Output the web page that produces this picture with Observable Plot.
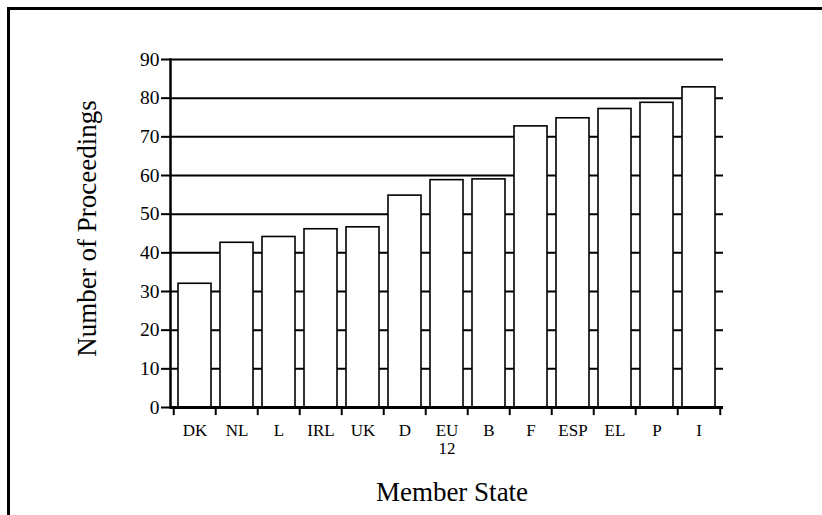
<!DOCTYPE html>
<html>
<head>
<meta charset="utf-8">
<script src="https://cdn.jsdelivr.net/npm/d3@7"></script>
<script src="https://cdn.jsdelivr.net/npm/@observablehq/plot@0.6"></script>
<style>
  html, body { margin: 0; padding: 0; background: #fff; }
  #wrap { position: relative; width: 822px; height: 515px; overflow: hidden; }
  #border { position: absolute; left: 7px; top: 7px; width: 830px; height: 530px;
            border-top: 3px solid #000; border-left: 3px solid #000; pointer-events: none; }
</style>
</head>
<body>
<div id="wrap"><div id="border"></div></div>
<script>
const states = ["DK", "NL", "L", "IRL", "UK", "D", "EU\n12", "B", "F", "ESP", "EL", "P", "I"];
const proceedings = [32, 42.6, 44.1, 46.1, 46.6, 54.8, 58.8, 59.0, 72.7, 74.8, 77.2, 78.8, 82.8];
const yTicks = [0, 10, 20, 30, 40, 50, 60, 70, 80, 90];
const gridValues = [10, 20, 30, 40, 50, 60, 70, 80, 90];
const xTitle = "Member State";
const yTitle = "Number of Proceedings";

const data = states.map((s, i) => ({state: s, value: proceedings[i]}));

const W = 822, H = 515, mL = 170, mR = 99, mT = 59, mB = 108;
const step = (W - mL - mR) / states.length;

const chart = Plot.plot({
  width: W,
  height: H,
  marginLeft: mL,
  marginRight: mR,
  marginTop: mT,
  marginBottom: mB,
  style: {fontFamily: "'Liberation Serif', 'DejaVu Serif', serif", color: "#000", background: "transparent"},
  x: {domain: states, paddingInner: 0.22, paddingOuter: 0.11, axis: null},
  y: {domain: [0, 90], axis: null},
  marks: [
    Plot.ruleY(gridValues, {stroke: "#000", strokeWidth: 2}),
    Plot.barY(data, {x: "state", y: "value", fill: "#fff", stroke: "#000", strokeWidth: 1.6}),
    Plot.ruleY([0], {stroke: "#000", strokeWidth: 3}),
    Plot.frame({anchor: "left", stroke: "#000", strokeWidth: 2.5}),
    Plot.ruleX(states, {x: d => d, dx: -step / 2, y1: 0, y2: -2.1, stroke: "#000", strokeWidth: 2}),
    Plot.ruleX(states.slice(-1), {x: d => d, dx: step / 2, y1: 0, y2: -2.1, stroke: "#000", strokeWidth: 2}),
    Plot.axisY({ticks: yTicks, tickSize: 9, tickPadding: 2, fontSize: 19.5, strokeWidth: 2, label: null}),
    Plot.axisX({tickSize: 0, tickPadding: 15, fontSize: 17, lineHeight: 1.1, label: null}),
    Plot.text([yTitle], {frameAnchor: "left", textAnchor: "middle", lineAnchor: "middle", dx: -83, dy: -5, rotate: -90, fontSize: 27, text: d => d}),
    Plot.text([xTitle], {frameAnchor: "bottom", textAnchor: "middle", lineAnchor: "middle", dx: 5, dy: 85, fontSize: 27, text: d => d})
  ]
});
document.getElementById("wrap").prepend(chart);
</script>
</body>
</html>
